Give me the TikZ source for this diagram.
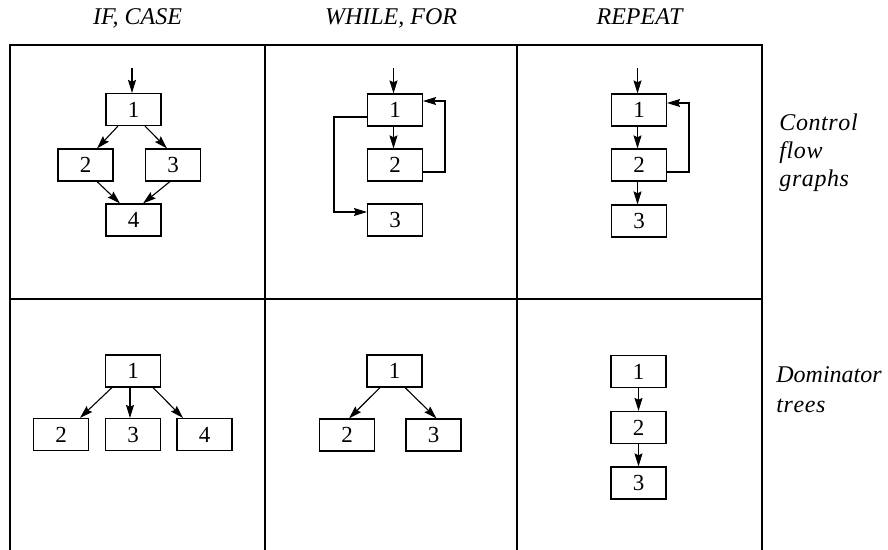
\documentclass[tikz,border=0pt]{standalone}
\usepackage{fontspec}
\setmainfont{Liberation Serif}
\newfontfamily\tms{Liberation Serif}
\usetikzlibrary{arrows.meta}
\begin{document}
\begin{tikzpicture}[x=0.5pt,y=-0.5pt,
  bx/.style={draw,line width=0.55pt,minimum width=27.5pt,minimum height=16pt,inner sep=0pt,font=\tms\fontsize{11.5}{14}\selectfont},
  ar/.style={line width=0.55pt,-{Stealth[length=6.5pt,width=4pt,inset=0.9pt]}},
  gridline/.style={line width=0.8pt},
  lbl/.style={font=\tms\fontsize{12}{14}\selectfont\itshape,inner sep=0pt}]
\path[use as bounding box] (0,0) rectangle (888,550);
% grid
\draw[gridline] (10,550) -- (10,45) -- (762,45) -- (762,550);
\draw[gridline] (265,45) -- (265,550);
\draw[gridline] (517,45) -- (517,550);
\draw[gridline] (10,299) -- (762,299);
% headers
\node[lbl,anchor=base] (h1) at (137.5,25) {IF, CASE};
\node[lbl,anchor=base] (h2) at (391,25) {WHILE, FOR};
\node[lbl,anchor=base] (h3) at (639.5,25) {REPEAT};
\node[lbl,anchor=base west] (r1) at (779,131) {C\kern0.3pt o\kern0.3pt n\kern0.3pt t\kern0.3pt r\kern0.3pt o\kern0.3pt l};
\node[lbl,anchor=base west] (r2) at (779,159) {f\kern0.3pt l\kern0.3pt o\kern0.3pt w};
\node[lbl,anchor=base west] (r3) at (779,187) {g\kern0.3pt r\kern0.3pt a\kern0.3pt p\kern0.3pt h\kern0.3pt s};
\node[lbl,anchor=base west] (s1) at (776,383) {Dominator};
\node[lbl,anchor=base west] (s2) at (776,412) {t\kern0.3pt r\kern0.3pt e\kern0.3pt e\kern0.3pt s};
% IF, CASE control flow graph
\node[bx] (a1) at (133.5,109.5) {1};
\node[bx] (a2) at (85.5,165) {2};
\node[bx] (a3) at (173,165) {3};
\node[bx] (a4) at (133.5,220) {4};
\coordinate (a0) at (132,68);
\draw[ar] (a0) -- (a0 |- a1.north);
\draw[ar] ([xshift=-7.75pt]a1.south) -- ([xshift=5.75pt]a2.north);
\draw[ar] ([xshift=5.75pt]a1.south) -- ([xshift=-3pt]a3.north);
\draw[ar] ([xshift=5.75pt]a2.south) -- ([xshift=-6.75pt]a4.north);
\draw[ar] ([xshift=-1.5pt]a3.south) -- ([xshift=4.75pt]a4.north);
% WHILE, FOR control flow graph
\node[bx] (b1) at (395,110) {1};
\node[bx] (b2) at (395,165) {2};
\node[bx] (b3) at (395,220) {3};
\coordinate (b0) at (393.5,68);
\draw[ar] (b0) -- (b0 |- b1.north);
\draw[ar] (b1.south -| b0) -- (b2.north -| b0);
\draw[ar] (b2.east |- 0,172) -| (445,101) -- (b1.east |- 0,101);
\draw[ar] (b1.west |- 0,117) -| (334,212) -- (b3.west |- 0,212);
% REPEAT control flow graph
\node[bx] (c1) at (639,110) {1};
\node[bx] (c2) at (639,165) {2};
\node[bx] (c3) at (639,221) {3};
\coordinate (c0) at (637.5,68);
\draw[ar] (c0) -- (c0 |- c1.north);
\draw[ar] (c1.south -| c0) -- (c2.north -| c0);
\draw[ar] (c2.south -| c0) -- (c3.north -| c0);
\draw[ar] (c2.east |- 0,172) -| (689,103) -- (c1.east |- 0,103);
% IF, CASE dominator tree
\node[bx] (d1) at (133,371) {1};
\node[bx] (d2) at (61,434.5) {2};
\node[bx] (d3) at (133,434.5) {3};
\node[bx] (d4) at (204.5,434.5) {4};
\draw[ar] ([xshift=-10.5pt]d1.south) -- ([xshift=9.5pt]d2.north);
\draw[ar] ([xshift=-1.5pt]d1.south) -- ([xshift=-1.5pt]d3.north);
\draw[ar] ([xshift=10pt]d1.south) -- ([xshift=-10.75pt]d4.north);
% WHILE, FOR dominator tree
\node[bx] (e1) at (394.5,371) {1};
\node[bx] (e2) at (347,435) {2};
\node[bx] (e3) at (433.5,435) {3};
\draw[ar] ([xshift=-7.25pt]e1.south) -- ([xshift=1pt]e2.north);
\draw[ar] ([xshift=5.25pt]e1.south) -- ([xshift=1.5pt]e3.north);
% REPEAT dominator tree
\node[bx] (f1) at (638.5,371.5) {1};
\node[bx] (f2) at (638.5,427.5) {2};
\node[bx] (f3) at (638.5,483) {3};
\draw[ar] (f1) -- (f2);
\draw[ar] (f2) -- (f3);
\end{tikzpicture}
\end{document}
